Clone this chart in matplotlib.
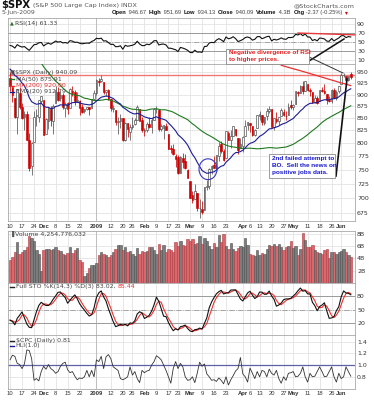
import numpy as np
import pandas as pd
import matplotlib
matplotlib.use("Agg")
import matplotlib.pyplot as plt
from matplotlib.patches import Rectangle, Ellipse
from matplotlib.lines import Line2D
from matplotlib.ticker import FixedLocator, FixedFormatter, NullLocator

# ---------------- data ----------------
prior_closes = [1281.66, 1300.68, 1282.83,
    1277.58, 1274.98, 1236.83, 1242.31, 1267.79, 1224.51, 1232.04, 1249.05, 1251.70, 1192.70,
    1213.60, 1156.39, 1206.51, 1255.08, 1207.09, 1188.22, 1185.87, 1209.18, 1213.27, 1106.42, 1166.36,
    1161.06, 1114.28, 1099.23, 1056.89, 996.23, 984.94, 909.92, 899.22, 1003.35, 998.01, 907.84,
    946.43, 940.55, 985.40, 955.05, 896.78, 908.11, 876.77, 848.92, 940.51, 930.09, 954.09, 968.75,
    966.30, 1005.75, 952.77, 904.88, 930.99]

opens = [936.8, 917.2, 893.4, 853.1, 904.4, 873.2, 852.3, 859.0, 805.9, 755.8, 801.2, 853.4, 852.9, 886.9,
    888.6, 817.9, 843.6, 869.8, 844.4, 882.7, 906.5, 892.2, 898.4, 871.8, 881.1, 871.5, 908.2, 905.0, 886.9,
    887.2, 874.3, 863.9, 869.5, 872.4, 870.6, 890.6,
    903.0, 929.2, 931.2, 927.5, 905.7, 909.9, 890.4, 869.8, 867.3, 842.0, 844.5, 849.6, 806.8, 839.7, 822.2,
    832.5, 837.3, 845.7, 868.9, 845.7,
    823.1, 825.7, 837.8, 831.8, 846.1, 868.2, 866.9, 827.4, 829.9, 834.0, 818.6, 791.1, 787.9, 775.9, 773.3,
    744.7, 770.6, 765.8, 749.9,
    729.6, 704.4, 698.6, 708.3, 684.0, 680.8, 679.3, 719.6, 720.9, 752.0, 758.8, 753.9, 776.0, 797.9, 784.6,
    772.3, 820.6, 806.8, 814.1, 828.7, 809.1, 790.9,
    793.6, 814.5, 835.1, 839.7, 834.1, 816.8, 829.3, 855.3, 856.9, 839.4, 854.5, 865.2, 868.3, 831.3, 847.3,
    844.6, 853.9, 862.8, 854.5, 856.9, 876.6,
    872.7, 879.2, 906.1, 904.0, 919.6, 909.0, 923.0, 910.5, 905.4, 884.2, 892.8, 886.1, 909.7, 908.6, 900.4,
    888.7, 887.0, 910.0, 893.0, 907.0,
    923.3, 942.9, 942.5, 932.5, 946.7]

highs = [951.2, 917.2, 893.4, 913.0, 916.9, 882.3, 865.9, 864.6, 820.5, 801.2, 865.6, 868.9, 887.7, 896.3,
    888.6, 850.5, 873.1, 875.6, 879.4, 918.6, 916.3, 908.3, 904.6, 883.2, 884.6, 914.7, 918.9, 911.0, 905.5,
    887.4, 880.4, 869.8, 873.7, 873.7, 891.1, 910.3,
    934.7, 936.6, 943.9, 927.5, 910.0, 911.9, 890.4, 877.0, 867.3, 851.6, 858.1, 849.6, 841.7, 839.7, 838.6,
    852.5, 850.5, 877.9, 868.9, 851.7,
    830.8, 842.6, 851.9, 850.6, 870.7, 875.0, 868.1, 838.2, 835.5, 839.4, 818.6, 796.2, 797.6, 778.7, 777.9,
    775.5, 780.1, 779.4, 751.3,
    729.6, 711.7, 724.1, 708.3, 699.1, 695.3, 719.6, 731.9, 752.6, 758.3, 774.5, 778.1, 803.0, 803.2, 788.9,
    823.4, 823.7, 826.3, 833.0, 828.7, 809.1, 810.5,
    813.6, 845.6, 842.5, 839.7, 834.1, 828.4, 856.9, 864.3, 856.9, 852.9, 870.4, 875.6, 868.3, 850.1, 861.8,
    852.9, 871.8, 868.8, 864.5, 882.1, 888.7,
    880.5, 907.8, 907.7, 920.3, 929.6, 930.2, 923.0, 915.6, 905.4, 898.4, 897.0, 910.0, 916.4, 924.6, 900.4,
    896.7, 911.8, 913.8, 909.5, 920.0,
    947.8, 949.4, 942.5, 942.5, 951.7]

lows = [907.5, 884.9, 850.5, 818.7, 869.9, 848.0, 826.8, 806.2, 747.8, 741.0, 801.2, 834.9, 841.4, 881.2,
    815.7, 817.9, 827.6, 833.6, 818.4, 882.7, 885.4, 885.5, 868.7, 851.4, 857.7, 871.5, 895.9, 877.4, 883.0,
    857.1, 860.1, 861.4, 866.5, 857.1, 870.6, 889.1,
    899.4, 919.5, 927.3, 902.4, 896.8, 888.3, 864.3, 862.0, 836.9, 817.0, 830.7, 804.5, 804.3, 811.3, 806.1,
    827.7, 835.3, 845.7, 844.4, 821.7,
    812.9, 822.0, 829.2, 819.9, 845.4, 861.7, 823.0, 823.0, 808.1, 825.2, 789.1, 780.4, 777.0, 754.3, 742.4,
    744.7, 752.9, 751.8, 734.5,
    699.7, 692.3, 698.6, 677.9, 666.8, 672.9, 679.3, 713.9, 714.8, 742.5, 753.4, 749.9, 765.6, 781.8, 766.2,
    772.3, 805.5, 791.4, 814.1, 813.4, 779.8, 790.9,
    783.3, 814.5, 826.7, 822.8, 814.5, 814.8, 829.3, 845.4, 836.3, 835.6, 847.0, 860.9, 832.4, 826.8, 840.6,
    835.6, 853.9, 854.7, 847.1, 856.9, 868.3,
    866.1, 879.2, 897.3, 904.0, 901.4, 909.0, 908.7, 896.5, 882.5, 882.5, 878.9, 886.1, 905.2, 901.4, 879.6,
    883.8, 881.5, 891.9, 887.6, 903.6,
    923.3, 938.5, 923.8, 929.3, 934.1]

closes = [919.2, 898.9, 852.3, 911.3, 873.3, 850.8, 859.1, 806.6, 752.4, 800.0, 851.8, 857.4, 887.7, 896.2,
    816.2, 848.8, 870.7, 845.2, 876.1, 909.7, 888.7, 899.2, 873.6, 879.7, 868.6, 913.2, 904.4, 885.3, 887.9,
    871.6, 863.2, 868.2, 872.8, 869.4, 890.6, 903.3,
    931.8, 927.5, 934.7, 906.7, 909.7, 890.4, 870.3, 871.8, 842.6, 843.7, 850.1, 805.2, 840.2, 827.5, 832.0,
    836.6, 845.7, 874.1, 845.1, 825.9,
    825.4, 838.5, 832.2, 845.9, 868.6, 869.9, 827.2, 833.7, 835.2, 826.8, 789.2, 788.4, 778.9, 770.1, 743.3,
    773.1, 764.9, 752.8, 735.1,
    700.8, 696.3, 712.9, 682.6, 683.4, 676.5, 719.6, 721.4, 750.7, 756.6, 753.9, 778.1, 794.4, 784.0, 768.5,
    822.9, 806.1, 813.9, 832.9, 815.9, 787.5, 797.9,
    811.1, 834.4, 842.5, 835.5, 815.6, 825.2, 856.6, 858.7, 841.5, 852.1, 865.3, 869.6, 832.4, 850.1, 843.6,
    851.9, 866.2, 857.5, 855.2, 873.6, 872.8,
    877.5, 907.2, 903.8, 919.5, 907.4, 929.2, 909.2, 908.4, 883.9, 893.1, 882.9, 909.7, 908.1, 903.5, 888.3,
    887.0, 910.3, 893.1, 906.8, 919.1,
    942.9, 944.7, 931.8, 942.5, 940.09]

volume_b = [3.8, 4.3, 5.0, 6.6, 4.8, 5.1, 5.4, 5.9, 7.6, 7.4, 6.8, 5.4, 4.7, 2.0,
    5.3, 5.6, 5.6, 5.3, 5.6, 5.8, 5.4, 5.2, 4.8, 4.5, 4.9, 5.9, 4.9, 5.4, 5.7, 3.8, 3.4, 1.2, 1.6, 2.5, 2.9, 3.0,
    3.2, 4.6, 5.0, 4.8, 4.6, 4.3, 4.5, 5.0, 5.6, 6.2, 6.2, 5.3, 5.9, 5.0, 5.2, 4.8, 4.4, 5.7, 4.8, 5.2,
    5.1, 5.2, 5.9, 5.8, 5.3, 4.7, 6.3, 5.4, 6.2, 5.0, 5.5, 5.3, 5.1, 6.7, 6.1, 6.9, 6.2, 6.0, 7.2,
    6.8, 7.2, 6.3, 6.5, 7.6, 6.3, 7.3, 6.9, 6.1, 5.5, 6.5, 5.8, 7.8, 6.6, 7.9, 6.0, 5.6, 6.5, 5.6, 5.2, 5.7, 6.1,
    5.8, 7.4, 6.2, 4.8, 4.6, 4.4, 5.4, 4.5, 4.9, 4.8, 5.5, 6.2, 6.0, 6.3, 6.1, 6.3, 5.8, 5.4, 5.8, 6.0, 6.8,
    5.7, 6.0, 4.6, 5.6, 8.1, 7.0, 5.8, 5.8, 6.2, 5.4, 5.0, 4.9, 4.7, 5.4, 5.5, 4.0, 5.0, 5.1, 4.8, 5.0,
    5.2, 5.5, 5.1, 4.6, 4.25]

cpc = [1.09, 1.17, 1.15, 1.03, 1.01, 0.94, 1.02, 1.26, 1.25, 1.11, 0.74, 0.77, 0.73, 0.89,
    0.98, 0.93, 1.01, 0.94, 0.91, 0.86, 0.89, 0.98, 1.03, 1.05, 0.92, 0.87, 0.89, 0.81, 0.75, 0.78, 0.77,
    0.80, 0.91, 0.80, 0.91, 0.80,
    1.09, 1.06, 1.15, 0.94, 1.14, 1.18, 1.11, 0.97, 0.94, 0.91, 0.77, 0.75, 0.77, 0.80, 0.97, 0.83, 0.89,
    0.77, 0.70, 0.91,
    0.87, 0.90, 0.91, 1.00, 1.06, 1.16, 1.13, 1.09, 1.00, 0.91, 0.80, 0.69, 0.94, 1.06, 0.94, 1.03, 0.97,
    0.80, 0.74,
    0.75, 0.80, 0.70, 0.86, 1.05, 0.98, 1.02, 0.85, 0.80, 0.74, 0.75, 0.72, 0.78, 0.74, 0.68, 0.80, 0.66,
    0.75, 0.82, 0.90, 0.94, 1.13,
    0.85, 0.80, 0.71, 0.95, 0.86, 0.77, 0.89, 0.80, 0.91, 0.89, 0.80, 0.93, 0.86, 0.83, 0.91, 0.77, 0.69,
    0.80, 0.74, 0.86, 0.87,
    0.89, 0.80, 0.81, 0.86, 0.97, 0.80, 0.71, 0.86, 0.80, 0.81, 0.89, 0.97, 0.89, 0.80, 0.81, 0.89, 0.97,
    0.80, 0.71, 0.86,
    0.77, 0.80, 0.97, 0.89, 0.81]

ma200_first = 113
ma200_tail = [966.5, 964.9, 963.2, 961.6, 960.0, 958.3, 956.9, 955.3, 953.8, 952.1, 950.6, 948.9, 947.3,
    945.6, 944.0, 942.3, 940.7, 939.0, 937.4, 935.7, 934.1, 932.5, 930.9, 929.2, 927.6, 926.0, 924.5,
    923.0, 921.5, 920.0]

resistance = 944.0
rsi_div = ([120, 143.7], [70, 66])

tick_idx = [0, 5, 10, 14, 19, 24, 29, 36, 42, 47, 51, 56, 61, 66, 70, 75, 80, 85, 90, 97, 100, 104,
            109, 114, 118, 124, 129, 134, 138]
tick_lbl = ['10', '17', '24', 'Dec', '8', '15', '22', '2009', '12', '20', '26', 'Feb', '9', '17', '23',
            'Mar', '9', '16', '23', 'Apr', '6', '13', '20', '27', 'May', '11', '18', '26', 'Jun']
bold_lbls = {'Dec', '2009', 'Feb', 'Mar', 'Apr', 'May', 'Jun'}
year_idx = 36

price_ticks = [675, 700, 725, 750, 775, 800, 825, 850, 875, 900, 925, 950]
rsi_ticks = [10, 30, 50, 70, 90]
vol_ticks = [2, 4, 6, 8]
vol_tick_lbl = ['2B', '4B', '6B', '8B']
sto_ticks = [20, 50, 80]
cpc_ticks = [0.8, 1.0, 1.2, 1.4]

# ---------------- indicators ----------------
n0 = len(prior_closes)
n = len(closes)
xs = np.arange(n)
all_c = np.array(prior_closes + closes, dtype=float)
s_all = pd.Series(all_c)
ma50 = s_all.rolling(50).mean().values[n0:]
ema20 = s_all.ewm(span=20, adjust=False).mean().values[n0:]

# Wilder RSI(14)
d = np.diff(all_c)
g = np.where(d > 0, d, 0.0)
lo_ = np.where(d < 0, -d, 0.0)
ag = g[:14].mean()
al = lo_[:14].mean()
rsi_full = np.full(len(all_c), np.nan)
rsi_full[14] = 100.0 - 100.0 / (1.0 + ag / al)
for k in range(15, len(all_c)):
    ag = (ag * 13 + g[k - 1]) / 14.0
    al = (al * 13 + lo_[k - 1]) / 14.0
    rsi_full[k] = 100.0 - 100.0 / (1.0 + ag / al)
rsi = rsi_full[n0:]

hh = pd.Series(highs).rolling(14, min_periods=1).max()
ll = pd.Series(lows).rolling(14, min_periods=1).min()
fastk = 100 * (pd.Series(closes) - ll) / (hh - ll)
fullk = fastk.rolling(3, min_periods=1).mean().values
fulld = pd.Series(fullk).rolling(3, min_periods=1).mean().values
prev_close = [prior_closes[-1]] + closes[:-1]
down = np.array(closes) < np.array(prev_close)

# ---------------- figure ----------------
W, H = 374, 400
FONT = 'DejaVu Sans'
NARROW = ['Liberation Sans', 'DejaVu Sans']
plt.rcParams['font.family'] = [FONT]
fig = plt.figure(figsize=(W / 100, H / 100), dpi=100)
fig.patch.set_facecolor('white')


def axbox(x0, y0, x1, y1):
    return fig.add_axes([x0 / W, 1 - y1 / H, (x1 - x0) / W, (y1 - y0) / H])


X0, X1 = 8, 355
ax_r = axbox(X0, 18, X1, 64)
ax_p = axbox(X0, 64, X1, 221)
ax_v = axbox(X0, 230.5, X1, 283)
ax_s = axbox(X0, 283, X1, 335)
ax_c = axbox(X0, 335, X1, 388.5)
axes = [ax_r, ax_p, ax_v, ax_s, ax_c]

ax_p.set_yscale('log')
GRID = '#e3e3e3'
for ax in axes:
    ax.set_xlim(-0.85, 143.75)
    ax.set_facecolor('white')
    ax.set_xticks(tick_idx)
    ax.yaxis.tick_right()
    ax.tick_params(axis='both', length=0, labelsize=4.5, colors='#333333', pad=1.5)
    ax.tick_params(axis='x', labelbottom=False)
    ax.grid(True, color=GRID, lw=0.6)
    ax.set_axisbelow(True)
    for sp in ax.spines.values():
        sp.set_color('#a8a8a8')
        sp.set_linewidth(0.6)
    ax.axvline(year_idx, color='#b8b8b8', lw=0.6, zorder=0.6)

# RSI
ax_r.set_ylim(2, 103)
ax_r.set_yticks(rsi_ticks)
ax_r.axhline(70, color='#9a9a9a', lw=0.7, zorder=1)
ax_r.axhline(30, color='#9a9a9a', lw=0.7, zorder=1)
ax_r.axhline(50, color='#9a9a9a', lw=0.6, ls='-.', zorder=1)
ax_r.plot(xs, rsi, color='#111111', lw=0.8, zorder=3)
ax_r.plot(rsi_div[0], rsi_div[1], color='#e8383a', lw=1.0, zorder=4, clip_on=False)

# Price
ax_p.set_ylim(662, 969.5)
ax_p.yaxis.set_major_locator(FixedLocator(price_ticks))
ax_p.yaxis.set_major_formatter(FixedFormatter([str(v) for v in price_ticks]))
ax_p.yaxis.set_minor_locator(NullLocator())
ax_p.axhline(resistance, color='#f07878', lw=1.0, zorder=2)
for i in range(n):
    o, h, l, c = opens[i], highs[i], lows[i], closes[i]
    col = '#cc0000' if down[i] else '#2a2a2a'
    ax_p.vlines(i, l, h, color=col if down[i] else '#555555', lw=0.55, zorder=3)
    lo, hi = min(o, c), max(o, c)
    if hi - lo < 0.6:
        hi = lo + 0.6
    filled = c < o
    ax_p.add_patch(Rectangle((i - 0.36, lo), 0.72, hi - lo, facecolor=col if filled else 'white',
                             edgecolor=col if filled else '#444444', lw=0.45, zorder=4))
ax_p.plot(xs, ma50, color='#1e7a1e', lw=0.8, zorder=5)
ax_p.plot(xs, ema20, color='#1c1c96', lw=0.8, zorder=5)
ax_p.plot(np.arange(ma200_first, ma200_first + len(ma200_tail)), ma200_tail, color='#e83030',
          lw=0.9, zorder=5)
ax_p.add_patch(Ellipse((82.5, 751), 7.5, 38, transform=ax_p.transData, fill=False,
                       edgecolor='#3838c0', lw=0.8, zorder=6))

# Volume
ax_v.set_ylim(0, 8.55)
ax_v.set_yticks(vol_ticks)
ax_v.set_yticklabels(vol_tick_lbl)
vcol = ['#d9686e' if dd else '#7c7c7c' for dd in down]
vedge = ['#b03a40' if dd else '#505050' for dd in down]
ax_v.bar(xs, volume_b, width=0.95, color=vcol, edgecolor=vedge, lw=0.4, zorder=3)

# STO
ax_s.set_ylim(-6, 109)
ax_s.set_yticks(sto_ticks)
ax_s.axhline(80, color='#9a9a9a', lw=0.7, zorder=1)
ax_s.axhline(20, color='#9a9a9a', lw=0.7, zorder=1)
ax_s.axhline(50, color='#9a9a9a', lw=0.6, ls='-.', zorder=1)
ax_s.plot(xs, fulld, color='#ee3030', lw=0.8, zorder=3)
ax_s.plot(xs, fullk, color='#111111', lw=0.8, zorder=4)

# CPC
ax_c.set_ylim(0.60, 1.515)
ax_c.set_yticks(cpc_ticks)
ax_c.set_yticklabels(['0.8', '1.0', '1.2', '1.4'])
ax_c.axhline(1.0, color='#6060a8', lw=0.9, zorder=2)
ax_c.plot(xs, cpc, color='#333333', lw=0.6, zorder=3)

for ax in (ax_p, ax_c):
    ax.tick_params(axis='x', labelbottom=True, pad=2)
    ax.set_xticklabels(tick_lbl)
    for t in ax.get_xticklabels():
        t.set_family(NARROW)
        t.set_fontsize(4.2)
        if t.get_text() in bold_lbls:
            t.set_fontweight('bold')

# ---------------- text ----------------
renderer = fig.canvas.get_renderer()


def seq(x, y, parts, family=FONT):
    made = []
    for s, size, w, c in parts:
        t = fig.text(x / W, 1 - y / H, s, fontsize=size, fontweight=w, color=c, va='center', ha='left',
                     family=family)
        made.append(t)
        x += t.get_window_extent(renderer).width
    return x, made


seq(1.5, 5.5, [("$SPX", 7.2, 'bold', '#111111'), (" (S&P 500 Large Cap Index) INDX", 4.6, 'normal', '#555555')])
fig.text(355 / W, 1 - 5.5 / H, "@StockCharts.com", fontsize=4.6, color='#555555', ha='right', va='center')
fig.text(1.5 / W, 1 - 12.5 / H, "5-Jun-2009", fontsize=4.4, color='#555555', ha='left', va='center')

hdr = [("Open", 'bold', '#111'), (" 946.67  ", 'normal', '#444'),
       ("High", 'bold', '#111'), (" 951.69  ", 'normal', '#444'),
       ("Low", 'bold', '#111'), (" 934.13  ", 'normal', '#444'),
       ("Close", 'bold', '#111'), (" 940.09  ", 'normal', '#444'),
       ("Volume", 'bold', '#111'), (" 4.3B  ", 'normal', '#444'),
       ("Chg", 'bold', '#111'), (" -2.37 (-0.25%) ", 'normal', '#444'),
       ("\u25BE", 'normal', '#cc0000')]
HX0, HX1 = 112, 353
x_end, made = seq(HX0, 12.5, [(s, 5.0, w, c) for s, w, c in hdr], family=NARROW)
scale = (HX1 - HX0) / (x_end - HX0)
for t in made:
    t.remove()
seq(HX0, 12.5, [(s, 5.0 * scale, w, c) for s, w, c in hdr], family=NARROW)


def leg_line(y, color, text, tcolor='#444444', x=9.5):
    fig.add_artist(Line2D([x / W, (x + 4.5) / W], [1 - y / H, 1 - y / H], color=color, lw=1.0,
                          transform=fig.transFigure))
    fig.text((x + 6) / W, 1 - y / H, text, fontsize=4.5, color=tcolor, va='center', ha='left')


fig.text(9.5 / W, 1 - 23 / H, "\u25B2", fontsize=3.6, color='#2b6e2b', va='center', ha='left')
fig.text(15 / W, 1 - 23 / H, "RSI(14) 61.33", fontsize=4.5, color='#444444', va='center', ha='left')
fig.text(9.5 / W, 1 - 72.5 / H, "\u25A3", fontsize=4.0, color='#444444', va='center', ha='left')
fig.text(15 / W, 1 - 72.5 / H, "$SPX (Daily) 940.09", fontsize=4.5, color='#444444', va='center', ha='left')
leg_line(79, '#1e7a1e', "MA(50) 875.91")
leg_line(85.5, '#e83030', "MA(200) 920.00", tcolor='#e83030')
leg_line(92, '#1c1c96', "EMA(20) 912.79")
fig.text(9.5 / W, 1 - 234 / H, "\u2590", fontsize=4.0, color='#555555', va='center', ha='left')
fig.text(15 / W, 1 - 234 / H, "Volume 4,254,776,032", fontsize=4.5, color='#444444', va='center', ha='left')
seq(15.5, 286.5, [("Full STO %K(14,3) %D(3) 83.02, ", 4.5, 'normal', '#444444'),
                  ("85.44", 4.5, 'normal', '#ee3030')])
fig.add_artist(Line2D([9.5 / W, 14 / W], [1 - 286.5 / H] * 2, color='#222222', lw=1.0, transform=fig.transFigure))
leg_line(340.5, '#222222', "$CPC (Daily) 0.81")
leg_line(346, '#1c1c96', "HLI(1.0)")


# ---------------- annotations ----------------
def fig_line(x0, y0, x1, y1, **kw):
    fig.add_artist(Line2D([x0 / W, x1 / W], [1 - y0 / H, 1 - y1 / H], transform=fig.transFigure, **kw))


def fig_box(x0, y0, x1, y1, **kw):
    fig.add_artist(Rectangle((x0 / W, 1 - y1 / H), (x1 - x0) / W, (y1 - y0) / H,
                             transform=fig.transFigure, **kw))


fig_box(226, 49, 309, 63.5, facecolor='white', edgecolor='#8a8a8a', lw=0.6, zorder=10)
fig.text(229 / W, 1 - 52.8 / H, "Negative divergence of RSI", fontsize=4.6, fontweight='bold',
         color='#e02020', family=NARROW, va='center', ha='left', zorder=11)
fig.text(229 / W, 1 - 59.3 / H, "to higher prices.", fontsize=4.6, fontweight='bold',
         color='#e02020', family=NARROW, va='center', ha='left', zorder=11)
fig_line(309, 61, 344, 39, color='#111111', lw=1.1, zorder=9)
fig_line(309, 57, 343, 73, color='#333333', lw=0.7, zorder=9)

fig_box(269, 154, 335, 177.5, facecolor='white', edgecolor='#8a8a8a', lw=0.6, zorder=10)
for k, line in enumerate(["2nd failed attempt to", "BO.  Sell the news on", "positive jobs data."]):
    fig.text(272 / W, 1 - (158.5 + 7 * k) / H, line, fontsize=4.6, fontweight='bold', color='#1a1acc',
             family=NARROW, va='center', ha='left', zorder=11)
fig_line(336, 176, 347, 79, color='#111111', lw=1.2, zorder=9)

fig.savefig('out.png', dpi=100, facecolor='white')
